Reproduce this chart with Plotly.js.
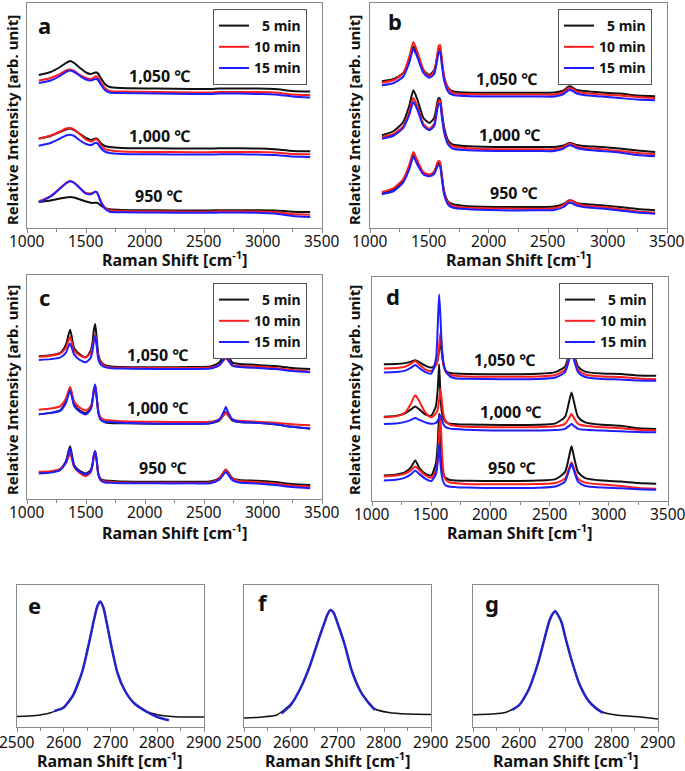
<!DOCTYPE html>
<html>
<head>
<meta charset="utf-8">
<script src="https://cdn.plot.ly/plotly-3.0.1.min.js"></script>
<style>html,body{margin:0;padding:0;background:#fff}</style>
</head>
<body>
<div id="chart" style="width:685px;height:771px"></div>
<script>
// Raman spectra, values (arb. units, ~px above baseline)
const ramanShift = [1100, 1200, 1280, 1330, 1365, 1400, 1450, 1500, 1540, 1555, 1567, 1578, 1590, 1605, 1625, 1660, 1700, 1800, 2100, 2400, 2550, 2630, 2665, 2685, 2705, 2740, 2800, 2950, 3100, 3250, 3400];
const ticksWide = [1000, 1500, 2000, 2500, 3000, 3500];
const ticksNarrow = [2500, 2600, 2700, 2800, 2900];

// panel a
const a1050_5  = [153, 156, 161, 165, 167, 165, 160, 155.5, 154, 154.5, 155, 155.5, 155.5, 154, 150, 144, 141, 140, 139.5, 139, 139, 139.5, 139.5, 139.5, 139.5, 139.5, 139.5, 139.5, 139, 137, 136.5];
const a1050_10 = [147.5, 150, 154, 157.5, 158.5, 157, 153, 150, 149, 149.5, 150.5, 151.5, 151.5, 150, 146, 140, 137, 136.5, 136, 135.5, 135.5, 136, 136, 136, 136, 136, 136, 136, 135.5, 133.5, 133];
const a1050_15 = [145, 147.5, 152, 156, 157.5, 156, 152, 148.5, 147.5, 148, 148.5, 149, 149, 147.5, 143.5, 138, 135.5, 135, 134.5, 134, 134, 134.5, 134.5, 134.5, 134.5, 134.5, 134.5, 134, 133.5, 131.5, 130.5];
const a1000_5  = [89.5, 92, 96, 98.5, 99.5, 98, 94, 90, 88, 88.5, 89, 89.5, 89.5, 88, 85, 82, 81, 80, 79.7, 79.5, 79.5, 79.7, 79.7, 79.7, 79.7, 79.7, 79.7, 79.5, 78.7, 77, 76.7];
const a1000_10 = [89.3, 92.5, 96.5, 99.5, 100, 98.5, 93.5, 88.5, 86.5, 87, 88, 88.7, 88.7, 87, 83, 79, 77.7, 76.5, 76, 75.8, 75.8, 76, 76, 76, 76, 76, 76, 76, 75.5, 74, 73.7];
const a1000_15 = [82.3, 85, 89.5, 92.5, 93.3, 92, 87.5, 84, 83, 83.5, 84.5, 85, 85, 83.5, 80, 76.5, 75, 74, 73.7, 73.5, 73.5, 73.7, 73.7, 73.7, 73.7, 73.7, 73.7, 73.5, 73, 71.5, 71];
const a950_5   = [26, 27.5, 29.5, 30.5, 31, 30.5, 28.5, 26.5, 25.2, 25, 25.2, 25.3, 25.3, 24.5, 22.5, 20, 18.7, 18, 17.7, 17.5, 17.5, 17.8, 17.8, 17.8, 17.8, 17.8, 17.8, 17.7, 17.5, 16.3, 16];
const a950_10  = [26.7, 32, 40, 45, 47, 45.5, 40, 35, 34.5, 35, 35.8, 36.2, 36, 33, 27, 20.5, 17.7, 17, 16.7, 16.3, 16.3, 16.7, 16.7, 16.7, 16.7, 16.7, 16.7, 16.5, 16, 14, 13.3];
const a950_15  = [25.7, 31.5, 39.5, 44.5, 46.7, 45, 39.5, 34.3, 33.8, 34.5, 35.5, 36.3, 36, 32.5, 26, 19.5, 16.3, 15.8, 15.5, 15.2, 15.2, 15.5, 15.5, 15.5, 15.5, 15.5, 15.5, 15.3, 14.5, 12, 11];

// panel b
const b1050_5  = [146.7, 149, 155, 168, 181.7, 173, 158, 153, 158, 164, 172, 178.5, 179, 166, 150, 140, 136.5, 135.5, 135.2, 135.2, 135.5, 137.5, 141, 141.7, 140.5, 138, 137, 135.5, 134.5, 132.5, 131.7];
const b1050_10 = [145.3, 148, 155, 171, 186, 176, 158, 151.7, 157, 164, 174, 182, 183, 169, 151, 139, 135, 134, 133.5, 133.5, 133.5, 136, 139.5, 140, 139, 136.5, 135, 133.5, 132.5, 131, 130];
const b1050_15 = [142.7, 145, 151.5, 165, 179, 170.5, 155, 150.3, 154, 161, 169, 175, 176, 163, 147, 136, 133, 132, 131.5, 131.5, 131.5, 134, 137.5, 138, 137, 134.5, 133, 131.5, 130, 128.5, 127.7];
const b1000_5  = [92.7, 97, 106, 122, 137.7, 128, 110, 105, 110, 118, 126, 130, 129, 116, 100, 87, 83.3, 82, 81, 81, 81, 82.5, 84.5, 85, 84.5, 83, 82, 81, 79.5, 77.5, 76];
const b1000_10 = [91, 94, 102, 116, 130, 121, 104, 99.3, 104, 113, 122, 127.5, 127, 114, 97, 85, 81.7, 80, 78.7, 78.7, 78.7, 81, 83.8, 84.3, 83.5, 81.5, 80, 78.7, 77, 75, 73.7];
const b1000_15 = [89.3, 92.5, 100, 113, 126, 118, 102, 97.7, 102, 110, 119, 124, 124, 111, 95, 83, 79.3, 78, 77, 77, 77, 79.5, 82.2, 82.7, 82, 80, 78.5, 77, 75.5, 73, 71.7];
const b950_5   = [35, 38.5, 47, 60, 72.7, 65, 55, 53.3, 56, 60, 63.5, 65, 64, 52, 36, 26, 23.7, 22, 21, 21, 21.5, 24, 27, 27.7, 27, 25, 24, 22.7, 21, 19, 17.7];
const b950_10  = [36, 40, 49, 63, 76, 67, 56, 53.3, 56, 61, 65.5, 67, 66, 52, 35, 25, 22, 20.5, 19.5, 19.3, 19.8, 23, 27, 27.7, 27, 24.5, 22.5, 21, 19, 16.5, 15.3];
const b950_15  = [33.7, 37, 45.5, 58.5, 71, 63, 53.5, 51.7, 54, 58, 61.5, 62.7, 61.5, 49, 33, 23, 20.3, 19, 17.7, 17.7, 18, 21, 24.7, 25.3, 24.5, 22.5, 21, 19.5, 17.5, 15.5, 14.3];

// panel c
const c1050_5  = [143.3, 144.5, 146.5, 155, 170, 151.5, 145, 142.3, 149, 157, 170, 175.7, 162, 145, 138, 134.5, 133.3, 132.5, 132.3, 132.5, 133, 137, 144.5, 149.7, 144, 137, 135.7, 134.7, 133.5, 131.7, 130.7];
const c1050_10 = [143, 144, 146, 152, 163, 149, 144, 142.3, 147, 153, 161, 165, 156, 143, 137, 133.5, 132.3, 131.8, 131.7, 131.7, 132, 134.5, 139, 141.3, 139, 134.5, 133.5, 133, 131.5, 129.5, 128];
const c1050_15 = [139.7, 140.5, 142, 147, 156.3, 145, 139.5, 137.3, 142, 149, 159, 164, 154, 140, 135, 132.5, 131.7, 131, 130.7, 130.7, 131, 134.5, 140, 143, 139.5, 134, 132.5, 131.7, 130.5, 128.5, 127.3];
const c1000_5  = [85, 86.5, 89, 98, 112.3, 95, 88.5, 86.3, 91, 99, 110, 114, 103, 87, 80, 77, 76.3, 76, 75.7, 75.7, 76, 79, 84, 87.3, 84, 79, 77.3, 76.5, 75, 72.5, 70.7];
const c1000_10 = [89.7, 91, 93, 101, 112.3, 98, 91.5, 89, 93, 99.5, 108.5, 112.3, 102, 88.5, 82, 79.5, 79, 78, 77.5, 77.3, 77.5, 80, 84, 86.3, 84, 80, 78.5, 77.5, 76.5, 75, 74];
const c1000_15 = [85, 86.5, 88.5, 96.5, 109, 93.5, 87.5, 85, 90, 99, 110, 115, 103, 86, 79.5, 77.5, 77.3, 76.5, 75.7, 75.7, 76, 80, 87, 92.3, 87, 80, 77.5, 76.5, 75, 72.5, 70.7];
const c950_5   = [26.7, 27.5, 30, 38, 53, 34, 28, 25.7, 29, 35, 44, 47.3, 39, 25, 20, 18.5, 18.3, 17.5, 17.3, 17.3, 17.5, 21, 26.5, 29.7, 27, 21, 19, 18.3, 17, 15, 14];
const c950_10  = [27.3, 28, 30, 36, 45.7, 32, 26, 23, 27, 34, 44, 48.3, 40, 25, 19.5, 17.5, 17.3, 16.5, 16.3, 16.3, 16.5, 20.5, 26.5, 29.7, 26.5, 20.5, 18, 17, 15.5, 13.5, 12.3];
const c950_15  = [25.7, 26.5, 29, 37, 50.7, 33, 27, 24.7, 28, 34.5, 44.5, 48.3, 39.5, 24, 18.5, 16.5, 16.3, 15.8, 15.7, 15.7, 15.8, 19.5, 24.5, 27.3, 24.5, 19, 16.5, 15.5, 14, 12, 10.7];

// panel d
const d1050_5  = [137.3, 137.5, 138.5, 140, 141.3, 139.5, 136, 134, 136.5, 142, 151.5, 160.7, 148, 136, 130.5, 128.5, 128, 127.5, 127.3, 127.8, 129.5, 135, 148, 155.7, 148, 135, 130, 128, 127.5, 126, 125.7];
const d1050_10 = [133, 133.5, 135, 138, 140.7, 137, 132, 130.7, 136, 142, 155.5, 169, 152, 136, 129, 126.5, 125.7, 125, 124.7, 125, 126.5, 132, 144.5, 152.3, 144.5, 132, 127, 125, 124.5, 123, 122.3];
const d1050_15 = [129, 129.5, 131, 134, 136.7, 133.5, 129.5, 128, 143, 175, 207.3, 185, 155, 138, 130, 125, 123.3, 122.8, 122.3, 122.5, 124, 129.5, 142, 150, 142, 129.5, 124.5, 122.5, 122, 121, 120.7];
const d1000_5  = [84.7, 85.5, 88, 92, 95, 92, 87, 85.7, 95.5, 112, 137.3, 106, 89, 83, 79, 77.5, 77.3, 76.8, 76.3, 76.5, 78, 84.5, 100, 109, 100, 84.5, 79, 76.5, 75.5, 73, 72.3];
const d1000_10 = [84, 85, 89, 98, 106.3, 100, 89, 84, 88, 92, 101, 112.3, 100, 86, 80, 76.5, 75.7, 74.5, 74, 74.2, 75, 77.5, 83.5, 87.3, 83.5, 77.5, 75.5, 74, 73, 71.5, 70.7];
const d1000_15 = [77.3, 77.8, 79.5, 81.5, 83.3, 81.5, 79, 77.5, 78.5, 80.5, 84, 86.3, 82, 76.5, 74, 72.7, 72.3, 71.5, 70.7, 70.8, 71.2, 72.5, 75.5, 77.3, 75.5, 72.5, 71.5, 70.7, 70, 69.3, 69];
const d950_5   = [25.7, 26.5, 29, 34, 40.7, 33, 27.5, 25.7, 38, 57, 88, 52, 34, 26, 23, 21, 20.7, 20.3, 20, 20.5, 22, 29, 45, 55, 45, 29, 23, 20.5, 19.5, 18, 17.3];
const d950_10  = [24.7, 25.5, 27.5, 31, 34.7, 31, 26, 23.3, 30, 42, 68, 84, 52, 28, 21, 18.5, 18, 17, 16.7, 17, 18, 22.5, 33, 39, 33, 22.5, 18.5, 16.5, 15, 13, 12.3];
const d950_15  = [20.7, 21.3, 23.5, 27, 30.7, 27, 22.5, 20, 27, 40, 57.3, 38, 25, 18.5, 15.5, 14.2, 14, 13.5, 13, 13.3, 14.5, 19.5, 31, 37.3, 31, 19.5, 15, 13.5, 12.8, 11.8, 11.3];

// 2D band detail (e, f, g) with fitted curves
const shift2D = [2500, 2540, 2570, 2600, 2620, 2640, 2655, 2665, 2672, 2678, 2685, 2692, 2700, 2715, 2730, 2750, 2780, 2810, 2850, 2900];
const e2D = [10.5, 11.5, 14, 20, 31, 56, 86, 108, 121, 125.5, 119, 104, 85, 54, 37, 24, 15, 11.5, 10, 10];
const f2D = [9, 10, 12, 23, 38, 60, 81, 95, 104, 112, 117, 114, 104, 83, 57, 35, 18, 14.5, 13, 12.5];
const g2D = [12.3, 13, 14.5, 22, 37, 63, 89, 106, 113, 115.7, 111, 104, 89, 64, 43, 26, 15, 12, 10.5, 8];
const eFitShift = [2580, 2600, 2620, 2640, 2655, 2665, 2672, 2678, 2685, 2692, 2700, 2715, 2730, 2750, 2780, 2800, 2825];
const eFit = [16, 19.5, 32, 56, 86, 108, 121, 125.5, 119, 104, 85, 54, 37, 24, 14.5, 10, 6.7];
const fFitShift = [2580, 2600, 2620, 2640, 2655, 2665, 2672, 2678, 2685, 2692, 2700, 2715, 2730, 2750, 2765, 2780];
const fFit = [13.5, 22, 38, 60, 81, 95, 104, 112, 117, 114, 104, 83, 57, 35, 25, 17];
const gFitShift = [2585, 2600, 2620, 2640, 2655, 2665, 2672, 2678, 2685, 2692, 2700, 2715, 2730, 2750, 2765, 2781];
const gFit = [17, 22, 37, 63, 89, 106, 113, 115.7, 111, 104, 89, 64, 43, 26, 19, 14];

const minutes = ['\u20075 min', '10 min', '15 min'];
const temps = ['1,050 \u2103', '1,000 \u2103', '950 \u2103'];
const xTitle = 'Raman Shift [cm<sup>-1</sup>]';
const yTitle = 'Relative Intensity [arb. unit]';

const FONT = 'Noto Sans, Open Sans, DejaVu Sans, sans-serif';
const colors = ['#111111', '#ff1e1e', '#1e1eff'];
const frame = '#8a8a8a';

// panel layout (pixel boxes converted to paper fractions)
const W = 685, H = 771;
const px = (l, r) => [l / W, r / W];
const py = (t, b) => [1 - b / H, 1 - t / H];

const panels = [
  { letter: 'a', series: [[a1050_5, a1050_10, a1050_15], [a1000_5, a1000_10, a1000_15], [a950_5, a950_10, a950_15]],
    dx: px(27, 322), dy: py(3, 228), legend: [213, 9], letterPos: [0.061, 0.9],
    xt: [175, 259], yt: [12, 120],
    labelPos: [[2127, 152], [2127, 92], [2119, 32]] },
  { letter: 'b', series: [[b1050_5, b1050_10, b1050_15], [b1000_5, b1000_10, b1000_15], [b950_5, b950_10, b950_15]],
    dx: px(370, 667), dy: py(3, 228), legend: [558, 9], letterPos: [0.084, 0.92],
    xt: [519, 259], yt: [354, 120],
    labelPos: [[2153, 149], [2178, 93], [2212, 35]] },
  { letter: 'c', series: [[c1050_5, c1050_10, c1050_15], [c1000_5, c1000_10, c1000_15], [c950_5, c950_10, c950_15]],
    dx: px(27, 322), dy: py(275, 499), legend: [213, 283], letterPos: [0.061, 0.9],
    xt: [175, 532], yt: [12, 390],
    labelPos: [[2110, 145], [2102, 91], [2153, 31]] },
  { letter: 'd', series: [[d1050_5, d1050_10, d1050_15], [d1000_5, d1000_10, d1000_15], [d950_5, d950_10, d950_15]],
    dx: px(372, 668), dy: py(277, 501), legend: [559, 283], letterPos: [0.071, 0.915],
    xt: [520, 532], yt: [354, 390],
    labelPos: [[2123, 142], [2166, 89], [2182, 33]] }
];

const small = [
  { letter: 'e', raw: e2D, fitX: eFitShift, fit: eFit, dx: px(17, 204), letterPos: [0.096, 0.86], xt: [110, 760] },
  { letter: 'f', raw: f2D, fitX: fFitShift, fit: fFit, dx: px(244, 431), letterPos: [0.10, 0.88], xt: [338, 760] },
  { letter: 'g', raw: g2D, fitX: gFitShift, fit: gFit, dx: px(473, 658), letterPos: [0.103, 0.87], xt: [566, 760] }
];

const tickFont = { family: FONT, size: 15.5, color: '#111' };
const titleFont = { family: FONT, size: 16, weight: 'bold', color: '#111' };

// tick marks come from the axis; the numbers are placed as annotations under
// each tick value so the end labels are never dropped
function xAxis(domain, anchor, range, tickvals, minor) {
  return {
    domain, anchor, range,
    tickmode: 'array', tickvals, showticklabels: false,
    showline: true, mirror: true, linecolor: frame, linewidth: 1,
    ticks: 'outside', ticklen: 4, tickcolor: frame,
    minor: { tick0: tickvals[0], dtick: minor, ticks: 'outside', ticklen: 3, tickcolor: frame },
    showgrid: false, zeroline: false, fixedrange: true
  };
}

function yAxis(domain, anchor, range) {
  return {
    domain, anchor, range,
    showline: true, mirror: true, linecolor: frame, linewidth: 1,
    ticks: '', showticklabels: false, showgrid: false, zeroline: false, fixedrange: true
  };
}

function tickLabels(s, tickvals, shift) {
  return tickvals.map(v => ({
    xref: 'x' + s, yref: 'y' + s + ' domain', x: v, y: 0, yshift: -shift,
    xanchor: 'center', yanchor: 'middle', text: String(v), showarrow: false, font: tickFont
  }));
}

function paperText(pos, text, font, angle) {
  return {
    xref: 'paper', yref: 'paper', x: pos[0] / W, y: 1 - pos[1] / H,
    xanchor: 'center', yanchor: 'middle', text, showarrow: false, font,
    textangle: angle || 0
  };
}

function letterText(s, pos, letter) {
  return {
    xref: 'x' + s + ' domain', yref: 'y' + s + ' domain',
    x: pos[0], y: pos[1], xanchor: 'center', yanchor: 'middle',
    text: letter, showarrow: false,
    font: { family: FONT, size: 22, weight: 'bold', color: '#111' }
  };
}

const traces = [];
const layout = {
  width: W, height: H,
  margin: { l: 0, r: 0, t: 0, b: 0 },
  paper_bgcolor: '#fff', plot_bgcolor: 'rgba(0,0,0,0)',
  font: { family: FONT, color: '#111' },
  annotations: []
};

panels.forEach((p, i) => {
  const s = i === 0 ? '' : String(i + 1);
  const leg = 'legend' + s;
  for (let m = 0; m < 3; m++) {
    for (let t = 0; t < 3; t++) {
      traces.push({
        x: ramanShift, y: p.series[t][m],
        xaxis: 'x' + s, yaxis: 'y' + s,
        type: 'scatter', mode: 'lines',
        line: { color: colors[m], width: 2, shape: 'spline', smoothing: 0.6 },
        name: minutes[m], legend: leg, legendgroup: leg + m,
        showlegend: t === 0, hoverinfo: 'skip'
      });
    }
  }
  layout['xaxis' + s] = xAxis(p.dx, 'y' + s, [1000, 3500], ticksWide, 250);
  layout['yaxis' + s] = yAxis(p.dy, 'x' + s, [0, 225]);
  layout[leg] = {
    x: p.legend[0] / W, y: 1 - p.legend[1] / H, xanchor: 'left', yanchor: 'top',
    bgcolor: '#fff', bordercolor: '#555', borderwidth: 1,
    font: { family: FONT, size: 14, weight: 'bold', color: '#111' },
    itemwidth: 30, tracegroupgap: 0
  };
  layout.annotations.push(...tickLabels(s, ticksWide, 13));
  layout.annotations.push(letterText(s, p.letterPos, p.letter));
  layout.annotations.push(paperText(p.xt, xTitle, titleFont));
  layout.annotations.push(paperText(p.yt, yTitle, { family: FONT, size: 15, weight: 'bold', color: '#111' }, -90));
  temps.forEach((label, t) => {
    layout.annotations.push({
      xref: 'x' + s, yref: 'y' + s,
      x: p.labelPos[t][0], y: p.labelPos[t][1], text: label, showarrow: false,
      font: { family: FONT, size: 16, weight: 'bold', color: '#111' }
    });
  });
});

small.forEach((p, k) => {
  const s = String(k + 5);
  traces.push({
    x: shift2D, y: p.raw, xaxis: 'x' + s, yaxis: 'y' + s,
    type: 'scatter', mode: 'lines', showlegend: false, hoverinfo: 'skip',
    line: { color: '#111111', width: 1.5, shape: 'spline', smoothing: 0.6 }
  });
  traces.push({
    x: p.fitX, y: p.fit, xaxis: 'x' + s, yaxis: 'y' + s,
    type: 'scatter', mode: 'lines', showlegend: false, hoverinfo: 'skip',
    line: { color: '#2323c8', width: 2.5, shape: 'spline', smoothing: 0.6 }
  });
  layout['xaxis' + s] = xAxis(p.dx, 'y' + s, [2500, 2900], ticksNarrow, 50);
  layout['yaxis' + s] = yAxis(py(585, 727), 'x' + s, [0, 142]);
  layout.annotations.push(...tickLabels(s, ticksNarrow, 15));
  layout.annotations.push(letterText(s, p.letterPos, p.letter));
  layout.annotations.push(paperText(p.xt, xTitle, titleFont));
});

Plotly.newPlot('chart', traces, layout, { displayModeBar: false, staticPlot: true });
</script>
</body>
</html>
